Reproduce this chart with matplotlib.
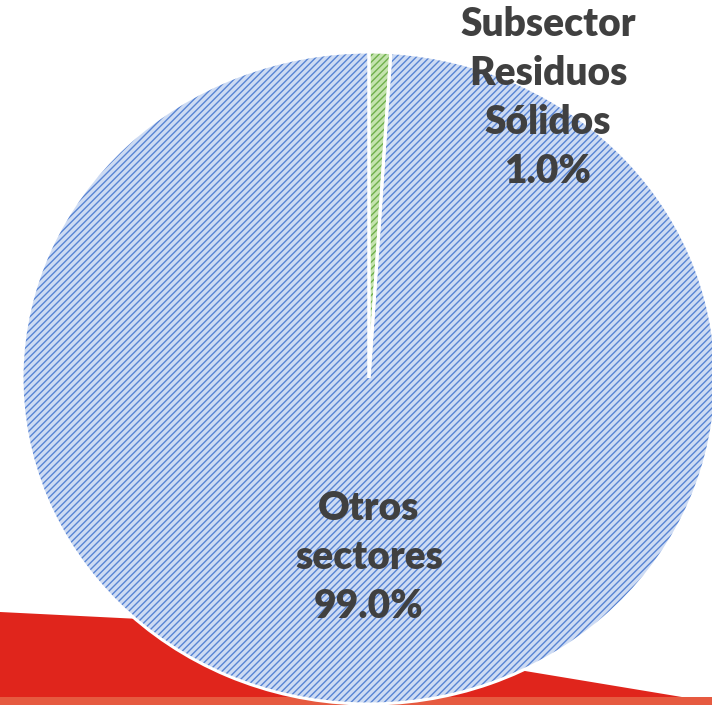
import matplotlib.pyplot as plt
from matplotlib.patches import Polygon

plt.rcParams['hatch.linewidth'] = 1.0

# Participación en emisiones
sectores = ["Subsector\nResiduos\nSólidos", "Otros\nsectores"]
porcentajes = [1.0, 99.0]
colores_fondo = ["#c4e3ae", "#cddbf3"]
colores_trama = ["#6fb04c", "#5884d4"]

W, H = 712, 705
fig = plt.figure(figsize=(W / 100, H / 100), dpi=100)
fig.patch.set_facecolor("white")

# franja roja decorativa detrás del gráfico (coordenadas de figura)
def px(x, y):
    return (x / W, 1 - y / H)

fondo = fig.add_axes([0, 0, 1, 1], zorder=0)
fondo.axis("off")
franja = Polygon([px(0, 612), px(300, 627), px(525, 671), px(712, 702),
                  px(712, 705), px(0, 705)], closed=True,
                 facecolor="#e0251c", edgecolor="none",
                 transform=fig.transFigure)
fondo.add_patch(franja)
borde = Polygon([px(0, 697), px(712, 697), px(712, 705), px(0, 705)],
                closed=True, facecolor="#e65a40", edgecolor="none",
                transform=fig.transFigure)
fondo.add_patch(borde)

cx, cy, rx, ry = 369, 378, 347, 326
ax = fig.add_axes([(cx - rx) / W, (H - cy - ry) / H, 2 * rx / W, 2 * ry / H],
                  zorder=2)
ax.patch.set_alpha(0)

# relleno con trama
wedges, _ = ax.pie(porcentajes, startangle=90, counterclock=False,
                   colors=colores_fondo,
                   wedgeprops=dict(linewidth=0))
for w, c in zip(wedges, colores_trama):
    w.set_hatch("/////")
    w.set_edgecolor(c)
    w.set_linewidth(0)

# bordes blancos entre porciones
ax.pie(porcentajes, startangle=90, counterclock=False,
       wedgeprops=dict(facecolor="none", edgecolor="white", linewidth=2.2))

ax.set_aspect("auto")
ax.set_xlim(-1, 1)
ax.set_ylim(-1, 1)
ax.axis("off")

posiciones = [(0.516, 0.86), (0.0, -0.55)]
for nombre, pct, (x, y) in zip(sectores, porcentajes, posiciones):
    ax.text(x, y, f"{nombre}\n{pct:.1f}%", ha="center", va="center",
            fontsize=28, fontweight="heavy", color="#404040",
            family="Lato", linespacing=1.4, clip_on=False)

fig.savefig("out.png", dpi=100)
